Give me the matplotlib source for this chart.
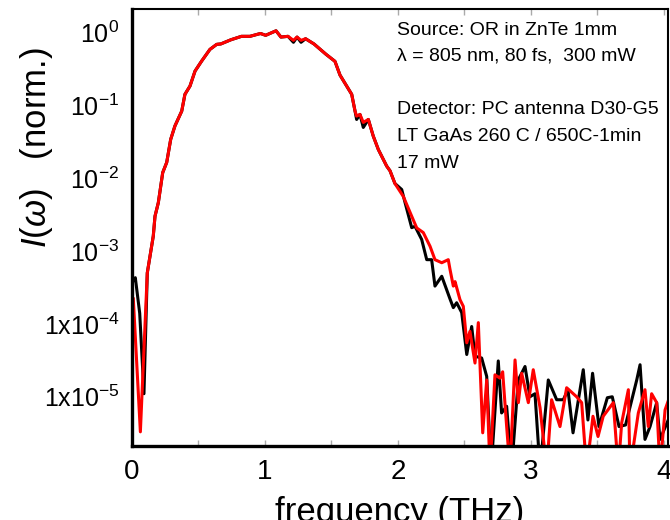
import numpy as np
import matplotlib.pyplot as plt

plt.rcParams['font.family'] = ['Liberation Sans', 'DejaVu Sans']
plt.rcParams['mathtext.fontset'] = 'custom'
plt.rcParams['mathtext.rm'] = 'Liberation Sans'
plt.rcParams['mathtext.it'] = 'Liberation Sans:italic'

# spectrum, black trace (THz, normalised intensity); 1e-6 = below the axis
freq_black = [0.01, 0.025, 0.058, 0.09, 0.115, 0.16, 0.173, 0.198, 0.231, 0.261,
              0.291, 0.323, 0.374, 0.398, 0.436, 0.474, 0.524, 0.586, 0.637, 0.668,
              0.744, 0.823, 0.887, 0.966, 1.005, 1.083, 1.12, 1.173, 1.214, 1.241,
              1.271, 1.305, 1.368, 1.459, 1.526, 1.564, 1.652, 1.677, 1.689, 1.714,
              1.739, 1.777, 1.814, 1.852, 1.915, 1.94, 1.977, 2.028, 2.053, 2.103,
              2.128, 2.178, 2.216, 2.253, 2.278, 2.329, 2.391, 2.416, 2.441, 2.479,
              2.517, 2.554, 2.579, 2.629, 2.667, 2.70, 2.754, 2.779, 2.817, 2.854,
              2.904, 2.955, 2.992, 3.03, 3.068, 3.13, 3.193, 3.243, 3.278, 3.316,
              3.393, 3.428, 3.463, 3.511, 3.574, 3.611, 3.662, 3.711, 3.795, 3.82,
              3.857, 3.895, 3.945, 3.97, 4.032]
int_black = [3.9e-4, 4.3e-4, 1.4e-4, 1.1e-5, 5.0e-4, 1.6e-3, 3.0e-3, 4.6e-3, 1.19e-2, 1.64e-2,
             3.4e-2, 5.2e-2, 8.3e-2, 0.141, 0.183, 0.294, 0.404, 0.583, 0.684, 0.693,
             0.791, 0.881, 0.881, 0.964, 0.91, 1.05, 0.861, 0.881, 0.73, 0.861,
             0.73, 0.817, 0.693, 0.499, 0.40, 0.259, 0.141, 0.083, 0.0638, 0.0748,
             0.0495, 0.0638, 0.0377, 0.0247, 0.0146, 0.0126, 0.00843, 6.97e-3, 4.62e-3, 2.09e-3,
             2.18e-3, 1.44e-3, 7.6e-4, 7.6e-4, 3.3e-4, 4.5e-4, 2.2e-4, 1.67e-4, 1.95e-4, 1.43e-4,
             3.8e-5, 9.2e-5, 3.6e-5, 3.4e-5, 1.9e-5, 1e-6, 3.1e-5, 6.0e-6, 7.4e-6, 1e-6,
             1.7e-5, 2.6e-5, 1.0e-5, 1.1e-5, 1e-6, 1.7e-5, 9.1e-6, 9.1e-6, 1.25e-5, 3.2e-6,
             2.35e-5, 4.8e-6, 2.1e-5, 3.9e-6, 9.7e-6, 1.0e-5, 3.9e-6, 4.1e-6, 1.7e-5, 2.75e-5,
             2.6e-6, 3.9e-6, 8.3e-6, 2.6e-6, 4.8e-6]

# red trace
freq_red = [0.01, 0.063, 0.115, 0.16, 0.173, 0.198, 0.231, 0.261, 0.291, 0.323,
            0.374, 0.398, 0.436, 0.474, 0.524, 0.586, 0.637, 0.668, 0.744, 0.823,
            0.887, 0.966, 1.005, 1.083, 1.12, 1.173, 1.214, 1.241, 1.271, 1.305,
            1.368, 1.459, 1.526, 1.564, 1.652, 1.677, 1.689, 1.714, 1.739, 1.777,
            1.814, 1.852, 1.915, 1.94, 1.977, 2.04, 2.103, 2.141, 2.19, 2.241,
            2.278, 2.329, 2.378, 2.391, 2.416, 2.429, 2.466, 2.491, 2.517, 2.541,
            2.579, 2.604, 2.637, 2.667, 2.692, 2.729, 2.767, 2.787, 2.817, 2.842,
            2.88, 2.905, 2.93, 2.98, 3.017, 3.068, 3.118, 3.155, 3.218, 3.268,
            3.343, 3.381, 3.418, 3.466, 3.504, 3.543, 3.619, 3.656, 3.682, 3.732,
            3.744, 3.807, 3.857, 3.882, 3.907, 3.945, 3.97, 4.008, 4.03]
int_red = [2.2e-4, 3.3e-6, 5.0e-4, 1.6e-3, 3.0e-3, 4.6e-3, 1.19e-2, 1.64e-2, 3.4e-2, 5.2e-2,
           8.3e-2, 0.141, 0.183, 0.294, 0.404, 0.583, 0.684, 0.693, 0.791, 0.881,
           0.881, 0.964, 0.91, 1.05, 0.861, 0.881, 0.776, 0.861, 0.776, 0.817,
           0.693, 0.499, 0.40, 0.259, 0.141, 0.083, 0.0708, 0.0748, 0.0581, 0.0638,
           0.0377, 0.0247, 0.0146, 0.0126, 0.00843, 5.6e-3, 3.0e-3, 2.07e-3, 1.79e-3, 1.16e-3,
           7.6e-4, 6.9e-4, 7.6e-4, 5.6e-4, 3.3e-4, 3.8e-4, 2.15e-4, 1.74e-4, 5.5e-5, 7.9e-5,
           2.9e-5, 1.04e-4, 3.2e-6, 1.7e-5, 1e-6, 2.0e-5, 1.8e-5, 2.2e-5, 3.9e-6, 1e-6,
           3.2e-5, 8.3e-6, 2.1e-5, 8.3e-6, 2.35e-5, 7.1e-6, 1e-6, 9.1e-6, 3.9e-6, 1.33e-5,
           1.0e-5, 8.3e-6, 1e-6, 5.4e-6, 2.85e-6, 5.4e-6, 8.3e-6, 1e-6, 4.4e-6, 1.25e-5,
           1e-6, 6.0e-6, 1.25e-5, 3.9e-6, 1.1e-5, 8.3e-6, 1e-6, 6.6e-6, 8.6e-6]

xticks = [0, 1, 2, 3, 4]
yticks = [1e0, 1e-1, 1e-2, 1e-3, 1e-4, 1e-5]
ytick_labels = ['10$^{0}$', '10$^{-1}$', '10$^{-2}$', '10$^{-3}$',
                '1x10$^{-4}$', '1x10$^{-5}$']
info_lines = ['Source: OR in ZnTe 1mm',
              '\u03bb = 805 nm, 80 fs,  300 mW',
              'Detector: PC antenna D30-G5',
              'LT GaAs 260 C / 650C-1min',
              '17 mW']
info_y = [0.941, 0.882, 0.760, 0.698, 0.636]

fig = plt.figure(figsize=(6.7, 5.2), dpi=100)
ax = fig.add_axes([0.197, 0.142, 0.8, 0.841])

ax.plot(freq_black, int_black, color='black', lw=2.2)
ax.plot(freq_red, int_red, color='#ff0000', lw=2.2)

ax.set_yscale('log')
ax.set_xlim(0, 4.03)
ax.set_ylim(2.1e-6, 2.1)
ax.set_xticks(xticks)
ax.set_xticklabels([str(v) for v in xticks], fontsize=20)
ax.set_xticks(np.arange(0, 4.01, 0.5), minor=True)
ax.set_yticks(yticks)
ax.set_yticklabels(ytick_labels, fontsize=18)
ax.yaxis.set_minor_locator(plt.NullLocator())
ax.tick_params(axis='x', which='both', direction='in', length=4, width=1,
               color='#aaaaaa', top=True, pad=9)
ax.tick_params(axis='y', length=0, pad=9)

for side in ['left', 'bottom']:
    ax.spines[side].set_linewidth(2.4)
for side in ['top', 'right']:
    ax.spines[side].set_linewidth(1.5)

for line, y in zip(info_lines, info_y):
    ax.text(0.494, y, line, transform=ax.transAxes, fontsize=14, va='baseline')

fig.text(0.597, -0.004, 'frequency (THz)', fontsize=25, ha='center', va='baseline')
fig.text(0.055, 1 - 148 / 520, '$I(\\omega)$   (norm.)', fontsize=25,
         rotation=90, ha='center', va='center')

fig.savefig('out.png', dpi=100)
